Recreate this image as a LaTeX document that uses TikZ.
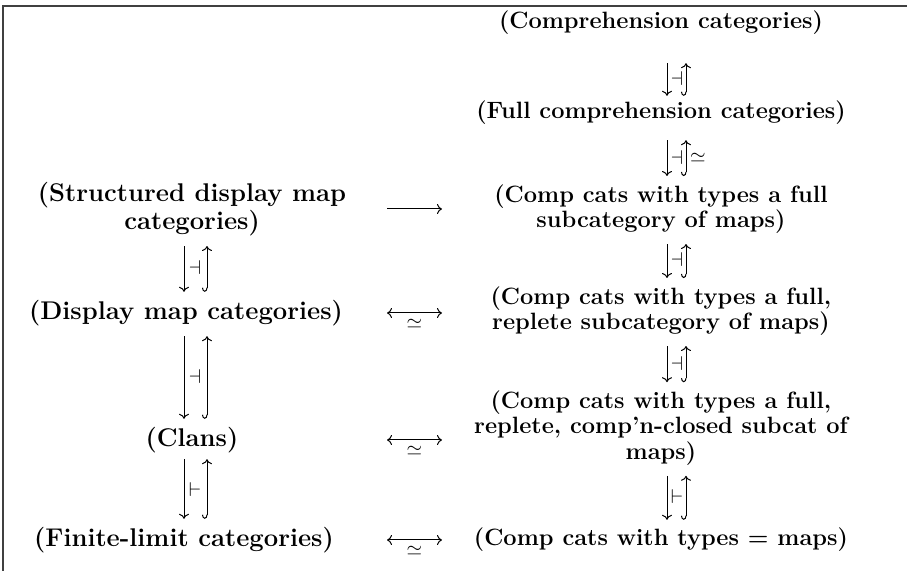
\documentclass[tikz,border=0pt]{standalone}
\usetikzlibrary{arrows.meta}

\tikzset{
  cat/.style={font=\fontsize{11.8pt}{12.8pt}\selectfont\bfseries, align=center, inner sep=0pt},
  lcat/.style={cat, font=\fontsize{12.8pt}{12.8pt}\selectfont\bfseries},
  adjdown/.style={-{Computer Modern Rightarrow[width=5pt,length=2.5pt]}, line width=.5pt, shorten <=5pt, shorten >=4pt},
  adjup/.style={{Hooks[right,length=2pt,width=5pt]}-{Computer Modern Rightarrow[width=5pt,length=2.5pt]}, line width=.5pt, shorten <=4pt, shorten >=5pt},
  equiv/.style={{Computer Modern Rightarrow[width=5pt,length=2.5pt]}-{Computer Modern Rightarrow[width=5pt,length=2.5pt]}, line width=.5pt},
  func/.style={-{Computer Modern Rightarrow[width=5pt,length=2.5pt]}, line width=.5pt},
  lbl/.style={font=\fontsize{10pt}{12pt}\selectfont, inner sep=0pt}
}

\begin{document}
\begin{tikzpicture}[x=0.5pt,y=-0.5pt]
    \useasboundingbox (0,0) rectangle (907,571);
    \draw[gray!50!black, line width=.7pt] (3,571) -- (3,6) -- (907,6);

    % right column
    \node[cat] (cc)  at (661,23)  {(Comprehension categories)};
    \node[cat] (fcc) at (661,113) {(Full comprehension categories)};
    \node[cat] (cf)  at (661,209) {(Comp cats with types a full\\subcategory of maps)};
    \node[cat] (cr)  at (661,311) {(Comp cats with types a full,\\replete subcategory of maps)};
    \node[cat] (ccl) at (661,428) {(Comp cats with types a full,\\replete, comp'n-closed subcat of\\maps)};
    \node[cat] (cm)  at (661,540) {(Comp cats with types = maps)};

    % left column
    \node[lcat] (sdm) at (192,209) {(Structured display map\\categories)};
    \node[lcat] (dm)  at (186,313) {(Display map categories)};
    \node[lcat] (cl)  at (192,440) {(Clans)};
    \node[lcat] (fl)  at (184,540) {(Finite-limit categories)};

    \coordinate (hl) at (387,0);
    \coordinate (hr) at (442,0);

    % adjunctions, right
    \draw[adjdown, shorten <=14pt, shorten >=2.5pt] ([xshift=3pt]cc.south) -- node[lbl, pos=.66, xshift=5pt]{$\dashv$} ([xshift=3pt]fcc.north);
    \draw[adjup, shorten <=2.5pt, shorten >=14pt] ([xshift=12.5pt]fcc.north) -- ([xshift=12.5pt]cc.south);
    \draw[adjdown, shorten <=7.5pt] ([xshift=3pt]fcc.south) -- node[lbl, pos=.55, xshift=5pt]{$\dashv$} ([xshift=3pt]cf.north);
    \draw[adjup, shorten >=7.5pt] ([xshift=12.5pt]cf.north) -- node[lbl, pos=.45, xshift=6pt]{$\simeq$} ([xshift=12.5pt]fcc.south);
    \draw[adjdown] ([xshift=3pt]cf.south) -- node[lbl, xshift=5pt]{$\dashv$} ([xshift=3pt]cr.north);
    \draw[adjup] ([xshift=12.5pt]cr.north) -- ([xshift=12.5pt]cf.south);
    \draw[adjdown] ([xshift=3pt]cr.south) -- node[lbl, xshift=5pt]{$\dashv$} ([xshift=3pt]ccl.north);
    \draw[adjup] ([xshift=12.5pt]ccl.north) -- ([xshift=12.5pt]cr.south);
    \draw[adjdown] ([xshift=3pt]ccl.south) -- node[lbl, xshift=5pt]{$\vdash$} ([xshift=3pt]cm.north);
    \draw[adjup] ([xshift=12.5pt]cm.north) -- ([xshift=12.5pt]ccl.south);

    % adjunctions, left
    \draw[adjdown] ([xshift=-4pt]sdm.south) -- node[lbl, xshift=5.5pt]{$\dashv$} ([xshift=-4pt]sdm.south |- dm.north);
    \draw[adjup] ([xshift=7.5pt]sdm.south |- dm.north) -- ([xshift=7.5pt]sdm.south);
    \draw[adjdown] ([xshift=-4pt]sdm.south |- dm.south) -- node[lbl, xshift=5.5pt]{$\dashv$} ([xshift=-4pt]cl.north);
    \draw[adjup] ([xshift=7.5pt]cl.north) -- ([xshift=7.5pt]sdm.south |- dm.south);
    \draw[adjdown, shorten <=3pt] ([xshift=-4pt]cl.south) -- node[lbl, xshift=5.5pt]{$\vdash$} ([xshift=-4pt]cl.south |- fl.north);
    \draw[adjup, shorten >=3pt] ([xshift=7.5pt]cl.south |- fl.north) -- ([xshift=7.5pt]cl.south);

    % across
    \draw[func] (sdm -| hl) -- (sdm -| hr);
    \draw[equiv] (dm -| hl) -- node[lbl, below=3pt]{$\simeq$} (dm -| hr);
    \draw[equiv] (cl -| hl) -- node[lbl, below=3pt]{$\simeq$} (cl -| hr);
    \draw[equiv] (fl -| hl) -- node[lbl, below=3pt]{$\simeq$} (fl -| hr);
\end{tikzpicture}
\end{document}
